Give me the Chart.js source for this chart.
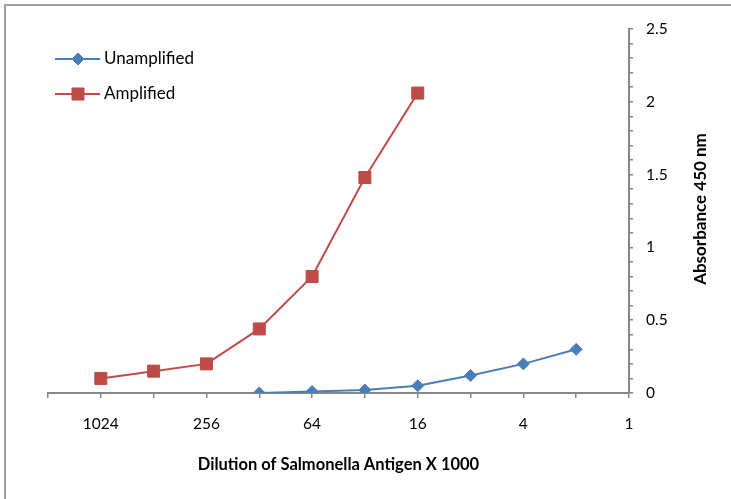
<!DOCTYPE html>
<html>
<head>
<meta charset="utf-8">
<script src="https://cdn.jsdelivr.net/npm/chart.js@4.4.1/dist/chart.umd.min.js"></script>
<style>
  html, body { margin: 0; padding: 0; background: #fff; }
  #wrap { position: relative; width: 731px; height: 499px; }
  canvas { display: block; }
</style>
</head>
<body>
<div id="wrap"><canvas id="grafico" width="731" height="499"></canvas></div>
<script>
// dados
const diluicoes_amplified = [1024, 512, 256, 128, 64, 32, 16];
const valores_amplified = [0.1, 0.15, 0.2, 0.44, 0.8, 1.48, 2.06];
const diluicoes_unamplified = [128, 64, 32, 16, 8, 4, 2];
const valores_unamplified = [0.0, 0.01, 0.02, 0.05, 0.12, 0.2, 0.3];
const rotulos_x = [1, 4, 16, 64, 256, 1024];
const rotulos_y = [0, 0.5, 1, 1.5, 2, 2.5];

const fonte = "Lato, 'Open Sans', sans-serif";
const cinza = "#878787";

function pontos(diluicoes, valores) {
  return diluicoes.map((d, i) => ({ x: Math.log2(d), y: valores[i] }));
}

// legenda dentro da area do grafico
const legendaPlugin = {
  id: "legendaInterna",
  afterDraw(chart) {
    const ctx = chart.ctx;
    const ys = [59, 94];
    chart.data.datasets.forEach((ds, i) => {
      const y = ys[i];
      ctx.save();
      ctx.strokeStyle = ds.borderColor;
      ctx.fillStyle = ds.backgroundColor;
      ctx.lineWidth = 2;
      ctx.beginPath();
      ctx.moveTo(55, y);
      ctx.lineTo(100, y);
      ctx.stroke();
      ctx.lineWidth = 1;
      Chart.helpers.drawPoint(ctx, {
        pointStyle: ds.pointStyle,
        radius: ds.pointRadius,
        borderWidth: 1,
      }, 78, y);
      ctx.fillStyle = "#000";
      ctx.font = "17px " + fonte;
      ctx.textBaseline = "middle";
      ctx.fillText(ds.label, 104, y);
      ctx.restore();
    });
  },
};

// borda e titulo do eixo y
const extrasPlugin = {
  id: "extras",
  afterDraw(chart) {
    const ctx = chart.ctx;
    ctx.save();
    ctx.strokeStyle = "#a0a0a0";
    ctx.lineWidth = 2;
    ctx.beginPath();
    ctx.moveTo(5, 499);
    ctx.lineTo(5, 5);
    ctx.lineTo(731, 5);
    ctx.stroke();

    ctx.translate(701, 209);
    ctx.rotate(-Math.PI / 2);
    ctx.fillStyle = "#000";
    ctx.font = "bold 17px " + fonte;
    ctx.textAlign = "center";
    ctx.textBaseline = "middle";
    ctx.fillText("Absorbance 450 nm", 0, 0);
    ctx.restore();
  },
};

const ctx1 = document.getElementById("grafico").getContext("2d");
const meuGrafico = new Chart(ctx1, {
  type: "line",
  data: {
    datasets: [
      {
        label: "Unamplified",
        data: pontos(diluicoes_unamplified, valores_unamplified),
        borderColor: "#4a7ebb",
        backgroundColor: "#4a7ebb",
        borderWidth: 2,
        pointStyle: "rectRot",
        pointRadius: 6,
        pointBorderWidth: 1,
      },
      {
        label: "Amplified",
        data: pontos(diluicoes_amplified, valores_amplified),
        borderColor: "#be4b48",
        backgroundColor: "#be4b48",
        borderWidth: 2,
        pointStyle: "rect",
        pointRadius: 8.5,
        pointBorderWidth: 1,
      },
    ],
  },
  options: {
    responsive: false,
    animation: false,
    maintainAspectRatio: false,
    devicePixelRatio: 1,
    layout: { padding: { left: 48, top: 29, right: 0, bottom: 0 } },
    plugins: { legend: { display: false }, tooltip: { enabled: false } },
    scales: {
      x: {
        type: "linear",
        reverse: true,
        min: 0,
        max: 11,
        afterFit: (s) => { s.height = 106; },
        border: { color: cinza, width: 2 },
        grid: { drawOnChartArea: false, drawTicks: true, tickLength: 5, color: cinza, lineWidth: 1.5 },
        ticks: {
          stepSize: 1,
          autoSkip: false,
          maxRotation: 0,
          padding: 17,
          color: "#000",
          font: { family: fonte, size: 15.5 },
          callback: (v) => (rotulos_x.includes(2 ** v) ? String(2 ** v) : ""),
        },
        title: {
          display: true,
          text: "Dilution of Salmonella Antigen X 1000",
          color: "#000",
          font: { family: fonte, size: 16.5, weight: "bold" },
          padding: { top: 0, bottom: 24 },
        },
      },
      y: {
        position: "right",
        min: 0,
        max: 2.5,
        afterFit: (s) => { s.width = 102; },
        border: { color: cinza, width: 2 },
        grid: { drawOnChartArea: false, drawTicks: true, tickLength: 4, color: cinza, lineWidth: 1.5 },
        ticks: {
          stepSize: 0.1,
          autoSkip: false,
          padding: 13,
          color: "#000",
          font: { family: fonte, size: 15.5 },
          callback: (v) => {
            const t = Math.round(v * 10) / 10;
            return rotulos_y.includes(t) ? String(t) : "";
          },
        },
      },
    },
  },
  plugins: [legendaPlugin, extrasPlugin],
});
</script>
</body>
</html>
